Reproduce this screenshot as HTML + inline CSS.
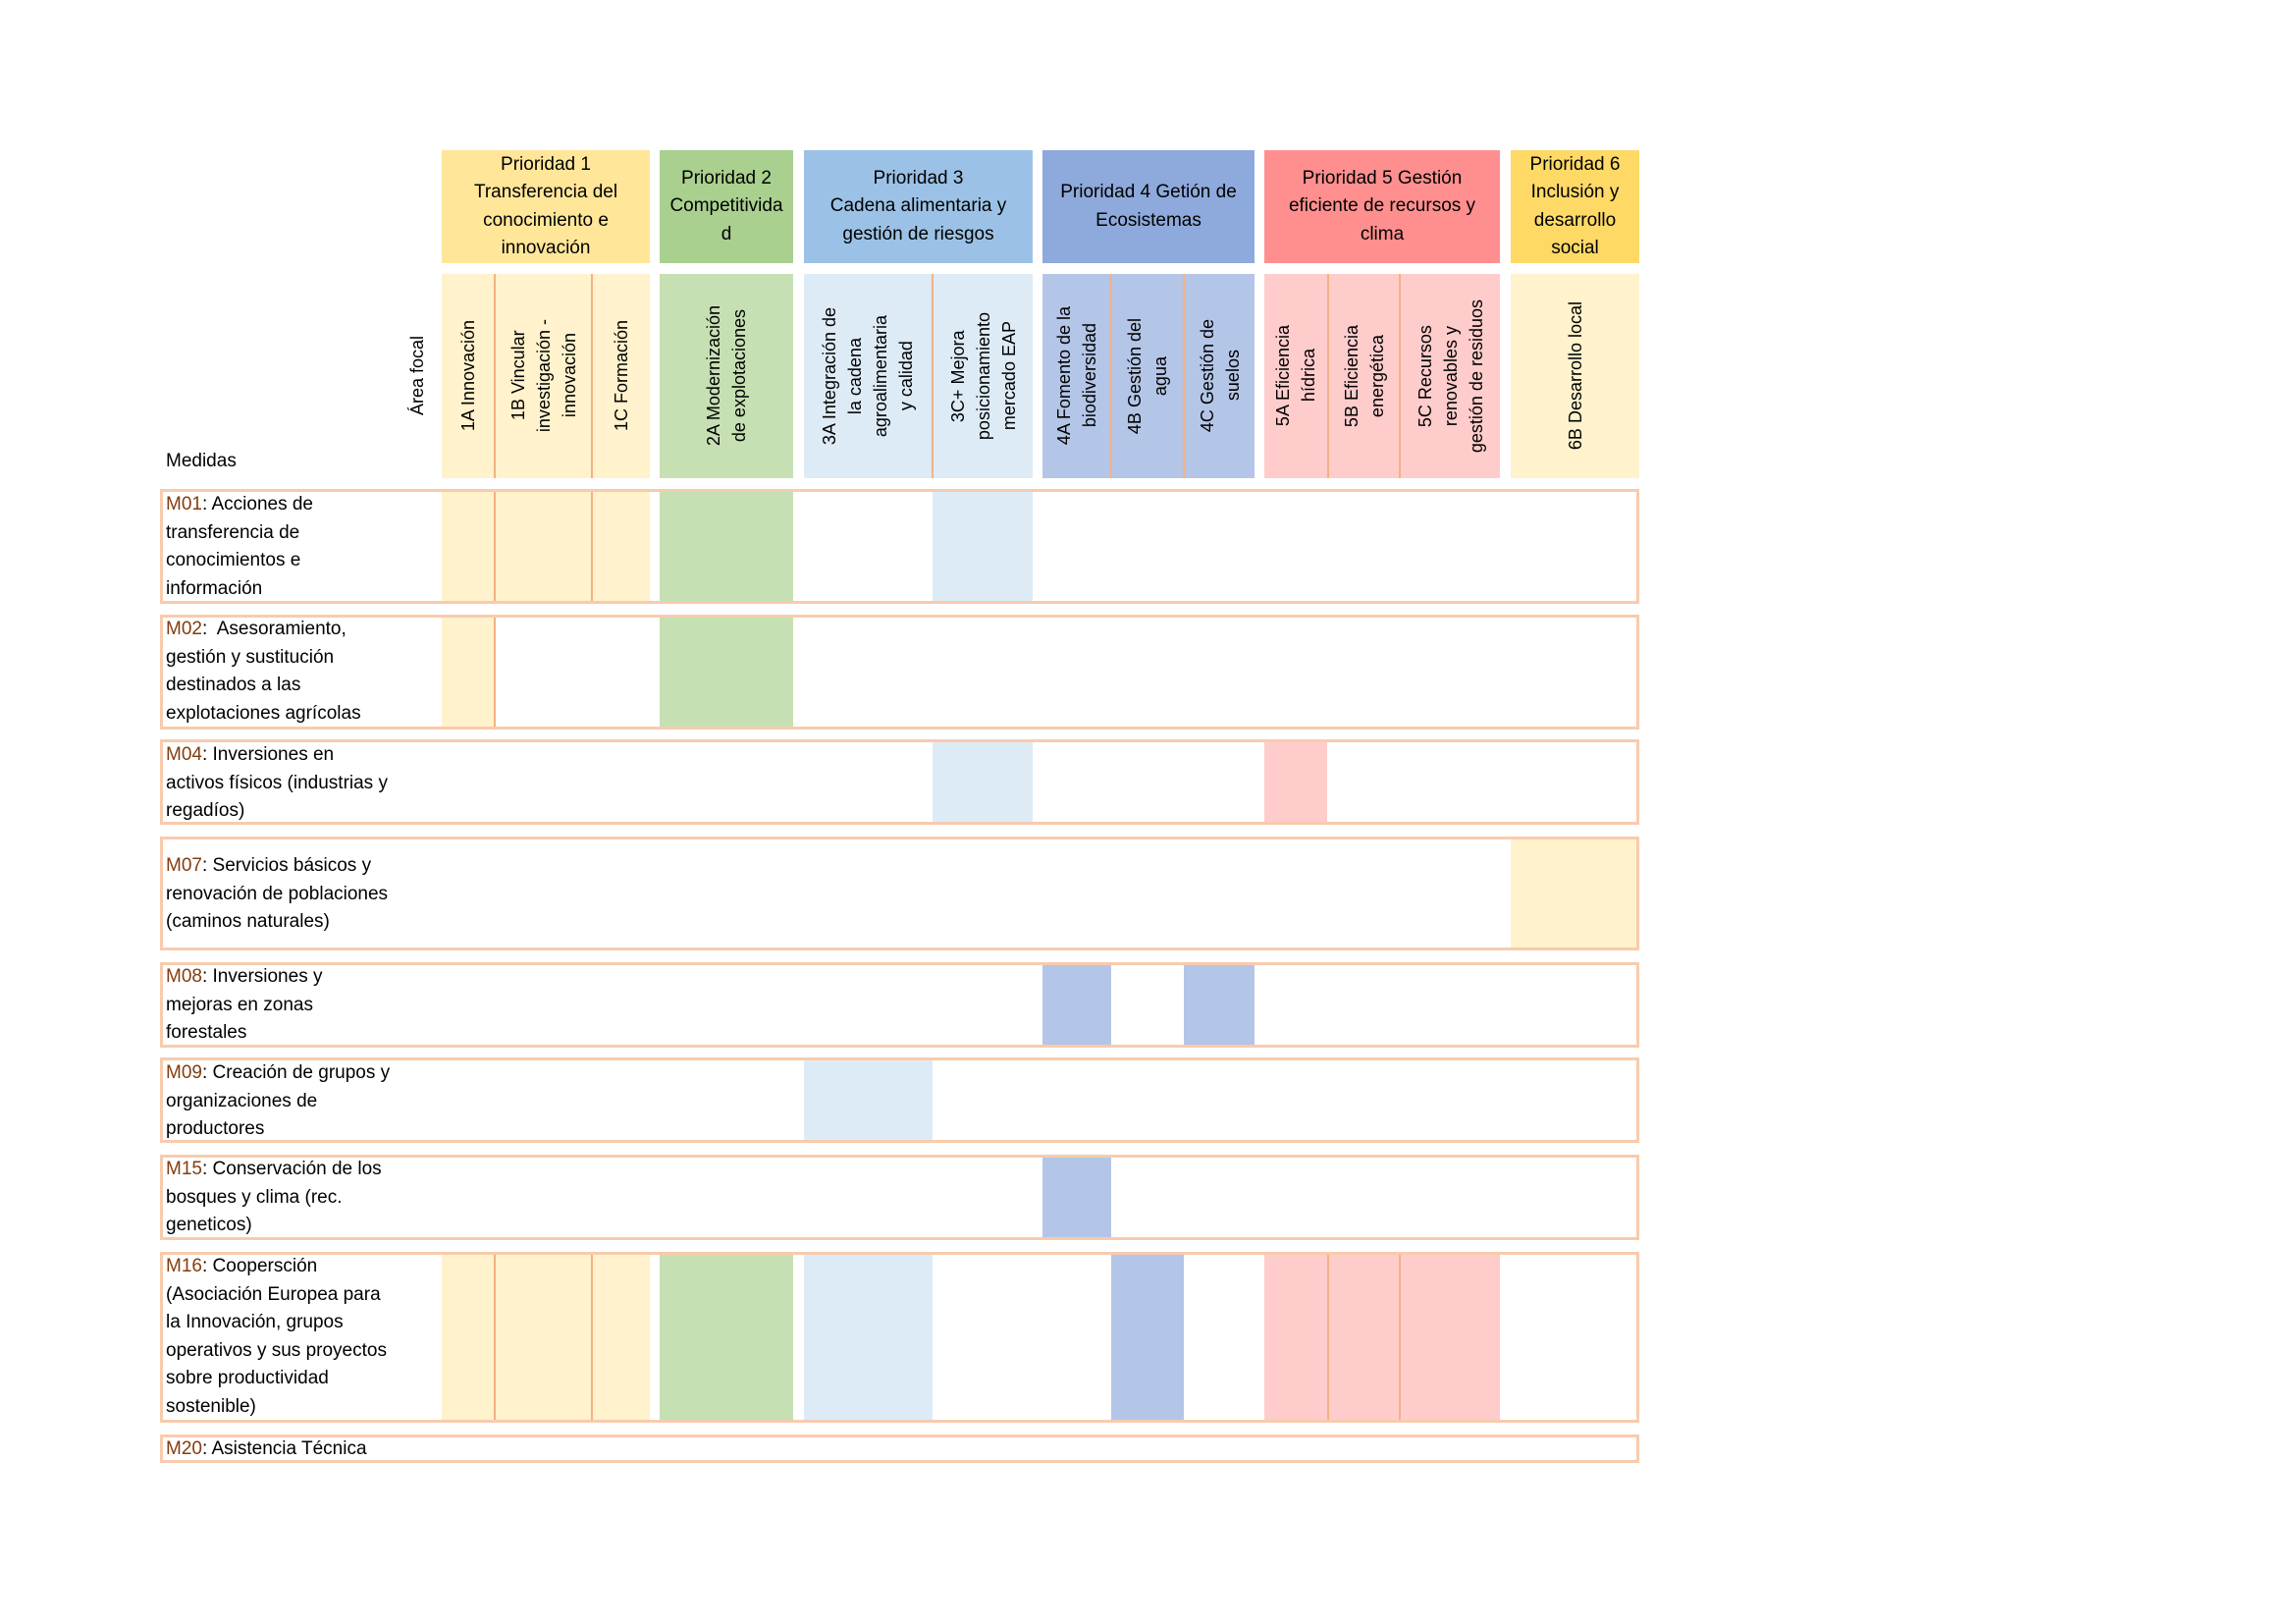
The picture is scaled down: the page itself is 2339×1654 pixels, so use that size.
<!DOCTYPE html>
<html><head><meta charset="utf-8"><style>
body{margin:0;width:2339px;height:1654px;background:#fff;position:relative;overflow:hidden;font-family:"Liberation Sans Narrow","Liberation Sans",sans-serif;color:#000}
.a{position:absolute;box-sizing:border-box}
.h{display:flex;align-items:center;justify-content:center;text-align:center;font-size:19px;line-height:28.5px}
.v{display:flex;align-items:center;justify-content:center}
.v span{writing-mode:vertical-rl;transform:rotate(180deg);font-size:18px;line-height:26px;text-align:center;font-family:"Liberation Sans",sans-serif}
.row{border:3px solid #F8CBAD}
.lbl{font-size:19px;line-height:28.5px;left:169px}
.lbl b{font-weight:normal;color:#843C0C}
.d{position:absolute;width:2px;background:#F4B183}
</style></head><body>
<!-- priority headers -->
<div class="a h" style="left:450px;top:153px;width:212px;height:115px;background:#FFE699">Prioridad 1<br>Transferencia del<br>conocimiento e<br>innovación</div>
<div class="a h" style="left:672px;top:153px;width:136px;height:115px;background:#A9D08E">Prioridad 2<br>Competitivida<br>d</div>
<div class="a h" style="left:819px;top:153px;width:233px;height:115px;background:#9BC2E6">Prioridad 3<br>Cadena alimentaria y<br>gestión de riesgos</div>
<div class="a h" style="left:1062px;top:153px;width:216px;height:115px;background:#8EA9DB">Prioridad 4 Getión de<br>Ecosistemas</div>
<div class="a h" style="left:1288px;top:153px;width:240px;height:115px;background:#FF8F8F">Prioridad 5 Gestión<br>eficiente de recursos y<br>clima</div>
<div class="a h" style="left:1539px;top:153px;width:131px;height:115px;background:#FFD966">Prioridad 6<br>Inclusión y<br>desarrollo<br>social</div>
<!-- subheaders -->
<div class="a" style="left:450px;top:279px;width:212px;height:208px;background:#FFF2CC"></div>
<div class="a" style="left:672px;top:279px;width:136px;height:208px;background:#C6E0B4"></div>
<div class="a" style="left:819px;top:279px;width:233px;height:208px;background:#DDEBF7"></div>
<div class="a" style="left:1062px;top:279px;width:216px;height:208px;background:#B4C6E7"></div>
<div class="a" style="left:1288px;top:279px;width:240px;height:208px;background:#FFCCCC"></div>
<div class="a" style="left:1539px;top:279px;width:131px;height:208px;background:#FFF2CC"></div>
<div class="d" style="left:503px;top:279px;height:208px"></div>
<div class="d" style="left:602px;top:279px;height:208px"></div>
<div class="d" style="left:949px;top:279px;height:208px"></div>
<div class="d" style="left:1131px;top:279px;height:208px"></div>
<div class="d" style="left:1205px;top:279px;height:208px"></div>
<div class="d" style="left:1352px;top:279px;height:208px"></div>
<div class="d" style="left:1425px;top:279px;height:208px"></div>
<div class="a v" style="left:395px;top:279px;width:60px;height:208px"><span>Área focal</span></div>
<div class="a v" style="left:450px;top:279px;width:53px;height:208px"><span>1A Innovación</span></div>
<div class="a v" style="left:505px;top:279px;width:97px;height:208px"><span>1B Vincular<br>investigación -<br>innovación</span></div>
<div class="a v" style="left:604px;top:279px;width:58px;height:208px"><span>1C Formación</span></div>
<div class="a v" style="left:672px;top:279px;width:136px;height:208px"><span>2A Modernización<br>de explotaciones</span></div>
<div class="a v" style="left:819px;top:279px;width:130px;height:208px"><span>3A Integración de<br>la cadena<br>agroalimentaria<br>y calidad</span></div>
<div class="a v" style="left:951px;top:279px;width:101px;height:208px"><span>3C+ Mejora<br>posicionamiento<br>mercado EAP</span></div>
<div class="a v" style="left:1062px;top:279px;width:69px;height:208px"><span>4A Fomento de la<br>biodiversidad</span></div>
<div class="a v" style="left:1133px;top:279px;width:72px;height:208px"><span>4B Gestión del<br>agua</span></div>
<div class="a v" style="left:1207px;top:279px;width:71px;height:208px"><span>4C Gestión de<br>suelos</span></div>
<div class="a v" style="left:1288px;top:279px;width:64px;height:208px"><span>5A Eficiencia<br>hídrica</span></div>
<div class="a v" style="left:1354px;top:279px;width:71px;height:208px"><span>5B Eficiencia<br>energética</span></div>
<div class="a v" style="left:1427px;top:279px;width:101px;height:208px"><span>5C Recursos<br>renovables y<br>gestión de residuos</span></div>
<div class="a v" style="left:1539px;top:279px;width:131px;height:208px"><span>6B Desarrollo local</span></div>
<div class="a lbl" style="top:456px">Medidas</div>

<!-- fills -->
<!-- M01 -->
<div class="a" style="left:450px;top:500px;width:212px;height:113px;background:#FFF2CC"></div>
<div class="d" style="left:503px;top:500px;height:113px"></div><div class="d" style="left:602px;top:500px;height:113px"></div>
<div class="a" style="left:672px;top:500px;width:136px;height:113px;background:#C6E0B4"></div>
<div class="a" style="left:950px;top:500px;width:102px;height:113px;background:#DDEBF7"></div>
<!-- M02 -->
<div class="a" style="left:450px;top:628px;width:53px;height:113px;background:#FFF2CC"></div>
<div class="d" style="left:503px;top:628px;height:113px"></div>
<div class="a" style="left:672px;top:628px;width:136px;height:113px;background:#C6E0B4"></div>
<!-- M04 -->
<div class="a" style="left:950px;top:755px;width:102px;height:83px;background:#DDEBF7"></div>
<div class="a" style="left:1288px;top:755px;width:64px;height:83px;background:#FFCCCC"></div>
<!-- M07 -->
<div class="a" style="left:1539px;top:854px;width:129px;height:112px;background:#FFF2CC"></div>
<!-- M08 -->
<div class="a" style="left:1062px;top:982px;width:70px;height:83px;background:#B4C6E7"></div>
<div class="a" style="left:1206px;top:982px;width:72px;height:83px;background:#B4C6E7"></div>
<!-- M09 -->
<div class="a" style="left:819px;top:1079px;width:131px;height:83px;background:#DDEBF7"></div>
<!-- M15 -->
<div class="a" style="left:1062px;top:1178px;width:70px;height:83px;background:#B4C6E7"></div>
<!-- M16 -->
<div class="a" style="left:450px;top:1277px;width:212px;height:170px;background:#FFF2CC"></div>
<div class="d" style="left:503px;top:1277px;height:170px"></div><div class="d" style="left:602px;top:1277px;height:170px"></div>
<div class="a" style="left:672px;top:1277px;width:136px;height:170px;background:#C6E0B4"></div>
<div class="a" style="left:819px;top:1277px;width:131px;height:170px;background:#DDEBF7"></div>
<div class="a" style="left:1132px;top:1277px;width:74px;height:170px;background:#B4C6E7"></div>
<div class="a" style="left:1288px;top:1277px;width:240px;height:170px;background:#FFCCCC"></div>
<div class="d" style="left:1352px;top:1277px;height:170px"></div><div class="d" style="left:1425px;top:1277px;height:170px"></div>

<!-- row boxes -->
<div class="a row" style="left:163px;top:498px;width:1507px;height:117px"></div>
<div class="a row" style="left:163px;top:626px;width:1507px;height:117px"></div>
<div class="a row" style="left:163px;top:753px;width:1507px;height:87px"></div>
<div class="a row" style="left:163px;top:852px;width:1507px;height:116px"></div>
<div class="a row" style="left:163px;top:980px;width:1507px;height:87px"></div>
<div class="a row" style="left:163px;top:1077px;width:1507px;height:87px"></div>
<div class="a row" style="left:163px;top:1176px;width:1507px;height:87px"></div>
<div class="a row" style="left:163px;top:1275px;width:1507px;height:174px"></div>
<div class="a row" style="left:163px;top:1461px;width:1507px;height:29px"></div>

<!-- labels -->
<div class="a lbl" style="top:500px"><b>M01</b>: Acciones de<br>transferencia de<br>conocimientos e<br>información</div>
<div class="a lbl" style="top:627px"><b>M02</b>:&nbsp; Asesoramiento,<br>gestión y sustitución<br>destinados a las<br>explotaciones agrícolas</div>
<div class="a lbl" style="top:755px"><b>M04</b>: Inversiones en<br>activos físicos (industrias y<br>regadíos)</div>
<div class="a lbl" style="top:868px"><b>M07</b>: Servicios básicos y<br>renovación de poblaciones<br>(caminos naturales)</div>
<div class="a lbl" style="top:981px"><b>M08</b>: Inversiones y<br>mejoras en zonas<br>forestales</div>
<div class="a lbl" style="top:1079px"><b>M09</b>: Creación de grupos y<br>organizaciones de<br>productores</div>
<div class="a lbl" style="top:1177px"><b>M15</b>: Conservación de los<br>bosques y clima (rec.<br>geneticos)</div>
<div class="a lbl" style="top:1276px"><b>M16</b>: Coopersción<br>(Asociación Europea para<br>la Innovación, grupos<br>operativos y sus proyectos<br>sobre productividad<br>sostenible)</div>
<div class="a lbl" style="top:1462px"><b>M20</b>: Asistencia Técnica</div>
</body></html>
